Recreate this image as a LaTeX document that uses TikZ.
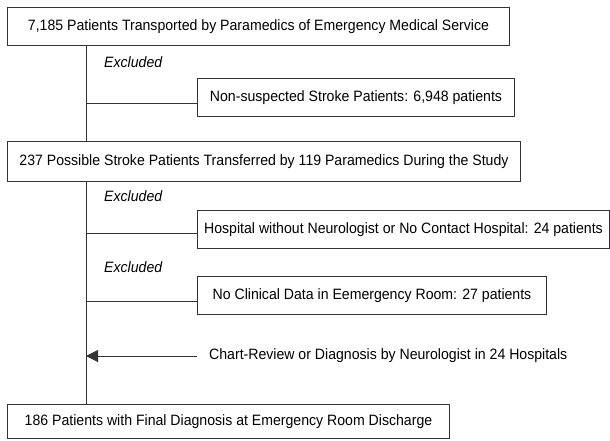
\documentclass[tikz,border=0pt]{standalone}
\usepackage{fontspec}
\setmainfont{Liberation Sans}[FakeStretch=0.94]
\usetikzlibrary{arrows.meta}

\begin{document}
\begin{tikzpicture}[x=1pt, y=-1pt,
  box/.style={draw=black!80, line width=1pt, anchor=north west, inner sep=0pt,
    minimum height=38pt, font=\fontsize{15}{17}\selectfont},
  note/.style={anchor=west, inner sep=0pt, font=\fontsize{15}{17}\selectfont},
  link/.style={draw=black!80, line width=1pt}]
\useasboundingbox (0,0) rectangle (610,440);

% Main flow
\node[box, minimum width=502pt] (total) at (7,7)
  {7,185 Patients Transported by Paramedics of Emergency Medical Service};
\node[box, minimum width=513pt, minimum height=40pt] (possible) at (7,141)
  {237 Possible Stroke Patients Transferred by 119 Paramedics During the Study};
\node[box, minimum width=442pt, minimum height=34pt] (final) at (7,404)
  {186 Patients with Final Diagnosis at Emergency Room Discharge};

% Exclusions
\node[note, font=\fontsize{15}{17}\selectfont\itshape] (excl1) at (104,62) {Excluded};
\node[box, minimum width=317pt] (nonstroke) at (197,78)
  {Non-suspected Stroke Patients: 6,948 patients};
\node[note, font=\fontsize{15}{17}\selectfont\itshape] (excl2) at (104,196) {Excluded};
\node[box, minimum width=412pt] (nohosp) at (197,210)
  {Hospital without Neurologist or No Contact Hospital: 24 patients};
\node[note, font=\fontsize{15}{17}\selectfont\itshape] (excl3) at (104,267) {Excluded};
\node[box, minimum width=349pt] (nodata) at (197,276)
  {No Clinical Data in Eemergency Room: 27 patients};

% Review
\node[note] (chart) at (209,356)
  {Chart-Review or Diagnosis by Neurologist in 24 Hospitals};

% Trunk
\coordinate (trunk) at (86,0);
\draw[link] (total.south -| trunk) -- (possible.north -| trunk);
\draw[link] (possible.south -| trunk) -- (final.north -| trunk);

% Branches
\draw[link] ([yshift=-6pt]nonstroke.west -| trunk) -- ([yshift=-6pt]nonstroke.west);
\draw[link] ([yshift=-4pt]nohosp.west -| trunk) -- ([yshift=-4pt]nohosp.west);
\draw[link] ([yshift=-6pt]nodata.west -| trunk) -- ([yshift=-6pt]nodata.west);
\draw[link, -{Triangle[length=12pt, width=12pt]}] ([xshift=-12pt]chart.west) -- (chart.west -| trunk);

\end{tikzpicture}
\end{document}
